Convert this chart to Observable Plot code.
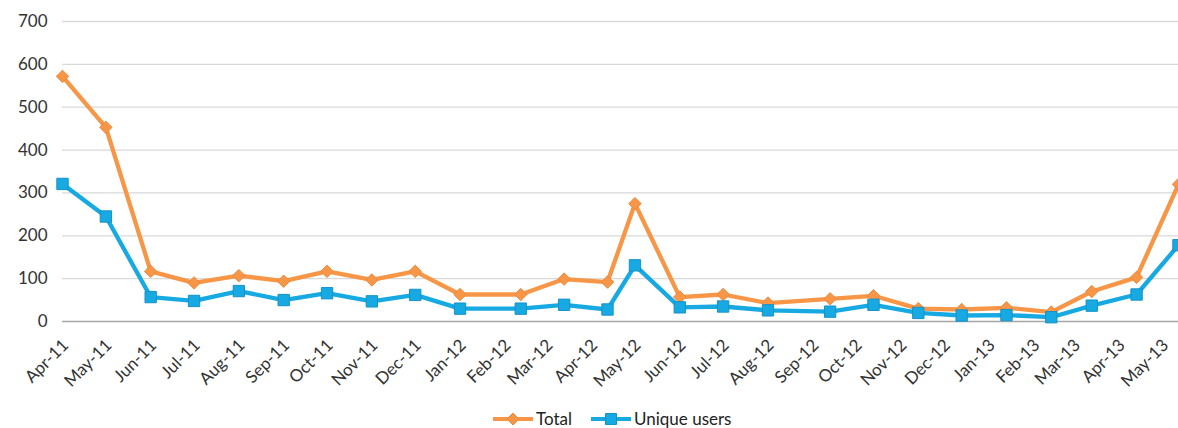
<!DOCTYPE html>
<html><head><meta charset="utf-8">
<script src="https://cdn.jsdelivr.net/npm/d3@7"></script>
<script src="https://cdn.jsdelivr.net/npm/@observablehq/plot@0.6"></script>
<style>
body{margin:0;background:#fff;font-family:Lato,"Open Sans",sans-serif;}
#wrap{position:relative;width:1178px;height:428px;overflow:hidden;}
#legend{position:absolute;left:493px;top:410px;display:flex;align-items:center;font-size:17px;line-height:18px;color:#222;white-space:nowrap;}
#legend .item{display:flex;align-items:center;margin-right:19px;}
#legend svg{margin-right:3px;}
</style></head><body>
<div id="wrap"><div id="chart"></div><div id="legend"></div></div>
<script>
const tickLabels = ["Apr-11","May-11","Jun-11","Jul-11","Aug-11","Sep-11","Oct-11","Nov-11","Dec-11",
  "Jan-12","Feb-12","Mar-12","Apr-12","May-12","Jun-12","Jul-12","Aug-12","Sep-12","Oct-12","Nov-12","Dec-12",
  "Jan-13","Feb-13","Mar-13","Apr-13","May-13"];
const pointDates = ["2011-04-01","2011-05-01","2011-06-01","2011-07-01","2011-08-01","2011-09-01","2011-10-01",
  "2011-11-01","2011-12-01","2012-01-01","2012-02-12","2012-03-13","2012-04-12","2012-05-01","2012-06-01",
  "2012-07-01","2012-08-01","2012-09-13","2012-10-13","2012-11-13","2012-12-13","2013-01-13","2013-02-13",
  "2013-03-13","2013-04-13","2013-05-12"];
const total  = [572,453,117,90,107,94,117,97,117,63,63,99,92,275,57,63,43,53,60,30,28,32,22,70,103,320];
const unique = [321,245,57,48,71,50,66,47,62,30,30,39,28,131,33,35,26,23,39,20,14,15,10,37,63,178];
const yTicks = [0,100,200,300,400,500,600,700];
const seriesNames = ["Total","Unique users"];
const colors = {"Total":"#f79646","Unique users":"#17a9e1"};
const strokes = {"Total":"#ea8a3e","Unique users":"#1592c8"};
const symbols = {"Total":"diamond2","Unique users":"square"};

const parseTick = d3.utcParse("%b-%y");
const tickDates = tickLabels.map(parseTick);
const dates = pointDates.map(d => new Date(d + "T00:00:00Z"));
const rows = [];
dates.forEach((d,i) => {
  rows.push({date:d, value: total[i], series: "Total"});
  rows.push({date:d, value: unique[i], series: "Unique users"});
});

const chart = Plot.plot({
  width: 1178,
  height: 395,
  marginLeft: 62,
  marginRight: 0,
  marginTop: 21,
  marginBottom: 74,
  style: {fontFamily: "Lato, 'Open Sans', sans-serif", fontSize: "17px", color: "#333", background: "#fff"},
  x: {type: "utc", domain: [tickDates[0], dates[dates.length-1]]},
  y: {domain: [0, 700]},
  marks: [
    Plot.gridY(yTicks.filter(t => t > 0), {stroke: "#d9d9d9", strokeOpacity: 1, strokeWidth: 1.3}),
    Plot.ruleY([0], {stroke: "#a6a6a6", strokeWidth: 1.5}),
    Plot.axisY({ticks: yTicks, tickSize: 0, tickPadding: 15, label: null, fontSize: 17}),
    Plot.axisX({ticks: tickDates, tickFormat: d3.utcFormat("%b-%y"), tickRotate: -45, tickSize: 0, tickPadding: 8, label: null, fontSize: 17, dx: 3, dy: 13}),
    ...seriesNames.map(s => Plot.line(rows.filter(r => r.series === s), {x: "date", y: "value", stroke: colors[s], strokeWidth: 4.3, strokeLinejoin: "round"})),
    ...seriesNames.map(s => Plot.dot(rows.filter(r => r.series === s), {x: "date", y: "value", symbol: symbols[s], r: s === "Total" ? 5.6 : 6.4, fill: colors[s], stroke: strokes[s], strokeWidth: 1})),
  ]
});
document.getElementById("chart").appendChild(chart);

const legend = document.getElementById("legend");
seriesNames.forEach(s => {
  const item = document.createElement("div");
  item.className = "item";
  const sym = d3.create("svg").attr("width", 40).attr("height", 16);
  sym.append("line").attr("x1",0).attr("x2",40).attr("y1",8).attr("y2",8).attr("stroke",colors[s]).attr("stroke-width",4);
  const symType = s === "Total" ? d3.symbolDiamond2 : d3.symbolSquare;
  const r = s === "Total" ? 5.4 : 6.2;
  sym.append("path").attr("transform","translate(20,8)").attr("d", d3.symbol(symType, r*r*Math.PI)()).attr("fill",colors[s]).attr("stroke",strokes[s]);
  item.appendChild(sym.node());
  const t = document.createElement("span");
  t.textContent = s;
  item.appendChild(t);
  legend.appendChild(item);
});
</script>
</body></html>
